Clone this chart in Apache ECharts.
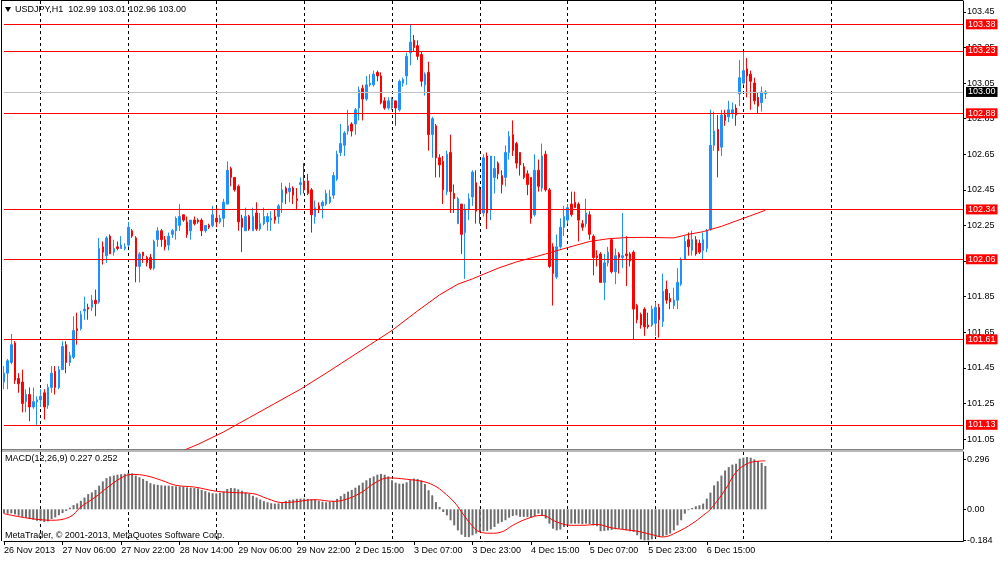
<!DOCTYPE html>
<html>
<head>
<meta charset="utf-8">
<title>USDJPY,H1</title>
<script src="https://cdn.jsdelivr.net/npm/echarts@6.0.0/dist/echarts.min.js"></script>
<style>
  html, body { margin: 0; padding: 0; background: #fff; }
  #main { width: 1000px; height: 561px; }
</style>
</head>
<body>
<div id="main"></div>
<script>
// hourly bars, oldest first
var opens = [
  101.37,101.42,101.48,101.59,101.39,101.37,101.26,101.30,101.23,101.26,101.27,101.31,101.24,101.34,101.43,101.34,
  101.44,101.58,101.48,101.51,101.67,101.67,101.77,101.79,101.79,101.83,101.82,102.13,102.08,102.19,102.10,102.13,
  102.12,102.12,102.14,102.22,102.18,102.02,102.10,102.07,102.07,102.01,102.17,102.22,102.17,102.14,102.20,102.22,
  102.25,102.31,102.27,102.22,102.28,102.28,102.28,102.22,102.25,102.25,102.29,102.27,102.29,102.37,102.57,102.52,
  102.47,102.29,102.22,102.30,102.22,102.32,102.23,102.26,102.27,102.28,102.30,102.30,102.38,102.46,102.44,102.46,
  102.40,102.48,102.50,102.50,102.45,102.30,102.36,102.36,102.37,102.38,102.42,102.51,102.66,102.70,102.78,102.82,
  102.82,102.91,103.02,102.96,103.04,103.04,103.11,103.09,102.95,102.91,102.91,102.95,102.90,103.05,103.09,103.22,
  103.29,103.26,103.21,103.04,103.11,102.76,102.81,102.63,102.61,102.44,102.66,102.43,102.26,102.37,102.21,102.34,
  102.41,102.49,102.45,102.32,102.64,102.34,102.52,102.60,102.53,102.52,102.66,102.76,102.71,102.66,102.58,102.54,
  102.52,102.31,102.56,102.46,102.65,102.45,102.13,101.96,102.13,102.24,102.28,102.37,102.38,102.37,102.26,102.26,
  102.31,102.19,102.08,102.09,101.93,102.04,102.17,101.99,102.09,102.07,102.09,102.09,102.10,101.80,101.75,101.78,
  101.69,101.69,101.70,101.79,101.71,101.89,101.84,101.80,101.83,101.92,102.06,102.17,102.11,102.17,102.15,102.11,
  102.12,102.23,102.70,102.79,102.69,102.87,102.86,102.88,102.91,102.99,103.05,103.13,103.10,103.05,102.97,102.94,
  102.99
];
var highs = [
  101.46,101.50,101.64,101.60,101.42,101.44,101.33,101.34,101.34,101.29,101.33,101.33,101.36,101.46,101.46,101.46,
  101.60,101.60,101.54,101.74,101.76,101.77,101.85,101.81,101.86,101.89,102.18,102.16,102.19,102.20,102.17,102.16,
  102.19,102.15,102.27,102.23,102.19,102.10,102.10,102.08,102.09,102.17,102.24,102.23,102.19,102.21,102.23,102.30,
  102.37,102.31,102.30,102.28,102.30,102.29,102.29,102.25,102.26,102.36,102.35,102.31,102.40,102.61,102.58,102.52,
  102.48,102.31,102.35,102.31,102.35,102.38,102.32,102.35,102.32,102.33,102.34,102.37,102.49,102.47,102.49,102.47,
  102.46,102.52,102.60,102.54,102.46,102.39,102.38,102.39,102.45,102.45,102.55,102.67,102.82,102.78,102.90,102.83,
  102.91,103.03,103.04,103.09,103.10,103.12,103.12,103.11,102.97,102.97,102.97,102.95,103.07,103.08,103.22,103.38,
  103.32,103.29,103.23,103.11,103.17,102.86,102.82,102.65,102.64,102.67,102.76,102.48,102.41,102.37,102.37,102.43,
  102.56,102.56,102.47,102.65,102.66,102.64,102.64,102.61,102.56,102.70,102.78,102.84,102.72,102.66,102.60,102.56,
  102.52,102.65,102.62,102.71,102.67,102.46,102.15,102.20,102.29,102.36,102.37,102.44,102.44,102.38,102.28,102.40,
  102.33,102.20,102.11,102.10,102.09,102.13,102.18,102.12,102.10,102.32,102.19,102.10,102.11,101.81,101.76,101.79,
  101.76,101.80,101.82,101.81,101.98,101.94,101.87,101.90,102.01,102.07,102.19,102.21,102.22,102.19,102.17,102.21,
  102.23,102.90,102.89,102.87,102.90,102.90,102.95,102.94,102.93,103.18,103.23,103.19,103.12,103.08,103.00,103.03,
  103.01
];
var lows = [
  101.33,101.33,101.47,101.36,101.31,101.20,101.20,101.15,101.22,101.13,101.23,101.16,101.22,101.31,101.30,101.33,
  101.44,101.42,101.46,101.50,101.58,101.66,101.72,101.72,101.77,101.74,101.81,102.03,102.04,102.09,102.08,102.11,
  102.12,102.11,102.13,102.18,101.93,101.93,102.04,102.02,102.00,102.00,102.13,102.13,102.11,102.11,102.18,102.17,
  102.22,102.27,102.18,102.17,102.25,102.26,102.19,102.21,102.23,102.24,102.24,102.26,102.24,102.37,102.47,102.44,
  102.22,102.10,102.22,102.22,102.22,102.22,102.22,102.25,102.22,102.22,102.26,102.26,102.32,102.37,102.38,102.37,
  102.34,102.42,102.43,102.42,102.21,102.26,102.32,102.29,102.36,102.37,102.40,102.50,102.64,102.64,102.76,102.75,
  102.76,102.84,102.84,102.95,103.03,103.03,103.06,102.93,102.90,102.90,102.90,102.81,102.89,103.03,103.04,103.15,
  103.23,103.18,103.03,102.98,102.67,102.63,102.52,102.52,102.37,102.42,102.32,102.32,102.26,102.09,101.95,102.28,
  102.36,102.26,102.26,102.30,102.23,102.28,102.43,102.51,102.43,102.47,102.62,102.64,102.57,102.53,102.51,102.42,
  102.26,102.30,102.44,102.44,102.44,102.01,101.80,101.95,102.12,102.19,102.26,102.30,102.35,102.16,102.22,102.24,
  102.17,101.97,102.02,101.93,101.83,102.02,101.98,101.92,101.98,102.01,101.91,102.02,101.61,101.70,101.67,101.63,
  101.67,101.68,101.63,101.62,101.68,101.81,101.78,101.78,101.78,101.91,102.06,102.08,102.08,102.08,102.09,102.06,
  102.10,102.22,102.67,102.52,102.64,102.81,102.83,102.85,102.81,102.92,103.04,102.97,102.90,102.93,102.88,102.89,
  102.96
];
var closes = [
  101.42,101.49,101.58,101.38,101.36,101.25,101.30,101.23,101.26,101.27,101.29,101.23,101.34,101.42,101.34,101.44,
  101.57,101.48,101.52,101.66,101.66,101.75,101.78,101.78,101.83,101.81,102.12,102.10,102.18,102.09,102.12,102.12,
  102.14,102.13,102.24,102.19,102.02,102.09,102.08,102.04,102.01,102.16,102.22,102.17,102.13,102.19,102.22,102.29,
  102.30,102.28,102.20,102.28,102.26,102.27,102.22,102.25,102.24,102.31,102.27,102.29,102.38,102.56,102.52,102.45,
  102.27,102.24,102.30,102.23,102.30,102.23,102.26,102.30,102.30,102.29,102.28,102.36,102.45,102.43,102.46,102.42,
  102.39,102.49,102.45,102.43,102.31,102.35,102.34,102.38,102.43,102.41,102.53,102.65,102.71,102.77,102.81,102.78,
  102.90,103.01,102.96,103.04,103.05,103.10,103.09,102.94,102.91,102.95,102.96,102.91,103.06,103.07,103.20,103.28,
  103.25,103.20,103.06,103.10,102.76,102.85,102.63,102.59,102.45,102.65,102.44,102.40,102.40,102.20,102.34,102.40,
  102.55,102.33,102.32,102.63,102.32,102.64,102.57,102.54,102.48,102.66,102.75,102.67,102.60,102.59,102.52,102.48,
  102.29,102.56,102.47,102.64,102.45,102.02,101.98,102.13,102.24,102.30,102.35,102.31,102.35,102.28,102.24,102.32,
  102.20,102.07,102.07,101.93,102.04,102.10,101.99,102.08,102.07,102.08,102.08,102.05,101.78,101.72,101.69,101.68,
  101.68,101.78,101.79,101.72,101.88,101.83,101.82,101.83,101.93,102.06,102.16,102.13,102.17,102.09,102.10,102.17,
  102.22,102.70,102.78,102.67,102.87,102.84,102.90,102.90,102.87,103.08,103.12,103.09,103.06,102.95,102.92,103.00,
  103.00
];

// moving average line, read at a few bars
var maBars   = [46, 53, 60, 67, 74, 81, 88, 94, 100, 106, 113, 119, 124, 128, 135, 140, 148, 153, 160, 165, 170, 175, 183, 187, 191, 196, 200, 204, 208];
var maValues = [100.96, 101.02, 101.09, 101.17, 101.25, 101.33, 101.42, 101.50, 101.58, 101.66, 101.77, 101.86, 101.92, 101.95, 102.01, 102.045,
                102.09, 102.12, 102.16, 102.175, 102.182, 102.183, 102.18, 102.20, 102.215, 102.245, 102.275, 102.305, 102.335];

// MACD(12,26,9) histogram, one value per bar
var macdHist = [
  -0.025,-0.026,-0.024,-0.030,-0.038,-0.045,-0.050,-0.058,-0.062,-0.068,-0.070,-0.075,-0.072,-0.058,-0.048,-0.035,
  -0.022,-0.010,0.010,0.025,0.035,0.050,0.070,0.090,0.100,0.115,0.140,0.165,0.185,0.195,0.200,0.205,
  0.208,0.210,0.215,0.213,0.200,0.190,0.180,0.168,0.155,0.148,0.145,0.142,0.140,0.140,0.138,0.136,
  0.135,0.133,0.130,0.128,0.126,0.124,0.115,0.108,0.100,0.095,0.094,0.098,0.105,0.120,0.126,0.125,
  0.118,0.110,0.100,0.092,0.080,0.070,0.058,0.048,0.042,0.036,0.034,0.035,0.040,0.050,0.055,0.058,
  0.062,0.063,0.064,0.062,0.060,0.058,0.050,0.045,0.042,0.044,0.050,0.062,0.078,0.092,0.105,0.115,
  0.128,0.142,0.158,0.172,0.185,0.195,0.205,0.210,0.205,0.195,0.172,0.158,0.152,0.152,0.160,0.175,
  0.182,0.180,0.172,0.150,0.113,0.083,0.043,0.014,-0.016,-0.036,-0.065,-0.095,-0.125,-0.150,-0.164,-0.165,
  -0.154,-0.144,-0.134,-0.130,-0.128,-0.119,-0.105,-0.085,-0.075,-0.065,-0.050,-0.040,-0.036,-0.045,-0.045,-0.045,
  -0.048,-0.040,-0.026,-0.040,-0.055,-0.085,-0.115,-0.125,-0.120,-0.105,-0.090,-0.085,-0.085,-0.085,-0.088,-0.085,
  -0.088,-0.095,-0.100,-0.130,-0.128,-0.125,-0.122,-0.118,-0.115,-0.118,-0.125,-0.130,-0.134,-0.154,-0.178,-0.184,
  -0.184,-0.178,-0.165,-0.164,-0.160,-0.154,-0.144,-0.125,-0.095,-0.065,-0.026,-0.005,0.008,0.018,0.024,0.034,
  0.063,0.099,0.142,0.166,0.200,0.230,0.250,0.265,0.270,0.300,0.306,0.310,0.306,0.296,0.285,0.275,
  0.257
];
// signal line, read at a few bars
var signalBars   = [0, 13, 18, 21, 25, 28, 32, 35, 39, 43, 47, 52, 58, 63, 68, 72, 76, 79, 85, 90, 94, 98, 101, 105, 110, 115, 118, 120,
                    123, 125, 128, 130, 133, 136, 139, 143, 147, 148, 151, 155, 158, 162, 166, 169, 173, 177, 180, 184, 188, 191, 193, 197,
                    200, 203, 206, 208];
var signalValues = [-0.026, -0.065, -0.045, 0.014, 0.073, 0.125, 0.186, 0.207, 0.198, 0.172, 0.142, 0.132, 0.107, 0.099, 0.093, 0.063,
                    0.040, 0.043, 0.057, 0.047, 0.063, 0.105, 0.152, 0.186, 0.178, 0.162, 0.135, 0.103, 0.043, -0.016, -0.100, -0.134,
                    -0.142, -0.134, -0.095, -0.055, -0.036, -0.040, -0.075, -0.095, -0.095, -0.090, -0.110, -0.119, -0.130, -0.150,
                    -0.164, -0.134, -0.085, -0.036, 0.000, 0.115, 0.220, 0.270, 0.285, 0.287];

var levels = [103.38, 103.23, 102.88, 102.34, 102.06, 101.61, 101.13];
var lastPrice = 103.00;
var priceTicks = [101.05, 101.25, 101.45, 101.65, 101.85, 102.05, 102.25, 102.45, 102.65, 102.85, 103.05, 103.25, 103.45];
var macdTicks = [0.296, 0, -0.184];
var timeLabels = ['26 Nov 2013', '27 Nov 06:00', '27 Nov 22:00', '28 Nov 14:00', '29 Nov 06:00', '29 Nov 22:00', '2 Dec 15:00',
                  '3 Dec 07:00', '3 Dec 23:00', '4 Dec 15:00', '5 Dec 07:00', '5 Dec 23:00', '6 Dec 15:00'];

var slotCount = 263;   // bar slots across the whole chart width
var labelStep = 16;    // bars between time labels
var gridFirst = 10, gridStep = 24, gridLast = 226;

var FONT = 'Liberation Sans, Arial, sans-serif';

var slots = [];
for (var i = 0; i < slotCount; i++) slots.push(i);

var candles = opens.map(function (o, i) { return [o, closes[i], lows[i], highs[i]]; });

function placeAt(bars, values) {
  var out = opens.map(function () { return null; });
  bars.forEach(function (b, k) { out[b] = values[k]; });
  return out;
}

function isLabel(i) { return i % labelStep === 0 && i / labelStep < timeLabels.length; }
function isGrid(i) { return i >= gridFirst && i <= gridLast && (i - gridFirst) % gridStep === 0; }

var dashed = { show: true, interval: function (i) { return isGrid(i); },
               lineStyle: { color: '#000', width: 1, type: [3, 3] } };

function levelMarks(values, lineColor, boxColor) {
  return {
    silent: true, symbol: ['none', 'none'], animation: false,
    lineStyle: { color: lineColor, width: 1, type: 'solid', opacity: 1 },
    emphasis: { disabled: true },
    label: { show: true, position: 'end', distance: 3, color: '#fff', fontSize: 9, fontFamily: FONT,
             backgroundColor: boxColor, padding: [1, 2, 0, 2],
             formatter: function (p) { return p.value.toFixed(2); } },
    data: values.map(function (v) { return { yAxis: v }; })
  };
}

var myChart = echarts.init(document.getElementById('main'));

var option = {
  animation: false,
  textStyle: { fontFamily: FONT },
  grid: [
    { left: 4, right: 37, top: 1, height: 448 },
    { left: 4, right: 37, top: 452, height: 89 }
  ],
  xAxis: [
    {
      type: 'category', gridIndex: 0, data: slots, boundaryGap: false,
      axisLine: { show: false }, axisTick: { show: false }, axisLabel: { show: false },
      splitLine: dashed
    },
    {
      type: 'category', gridIndex: 1, data: slots, boundaryGap: false,
      axisLine: { show: true, onZero: false, lineStyle: { color: '#000', width: 1 } },
      axisTick: { show: true, length: 4, interval: function (i) { return isLabel(i); }, lineStyle: { color: '#000' } },
      axisLabel: {
        interval: function (i) { return isLabel(i); },
        formatter: function (v, i) { return timeLabels[i / labelStep]; },
        align: 'left', margin: 5, fontSize: 9, color: '#000', fontFamily: FONT
      },
      splitLine: dashed
    }
  ],
  yAxis: [
    {
      type: 'value', gridIndex: 0, position: 'right', min: 100.994, max: 103.511, scale: true,
      axisLine: { show: true, lineStyle: { color: '#000', width: 1 } },
      axisTick: { show: true, length: 3, customValues: priceTicks, lineStyle: { color: '#000' } },
      axisLabel: { customValues: priceTicks, margin: 4, fontSize: 9, color: '#000', fontFamily: FONT,
                   formatter: function (v) { return v.toFixed(2); } },
      splitLine: { show: false }
    },
    {
      type: 'value', gridIndex: 1, position: 'right', min: -0.1879, max: 0.3396,
      axisLine: { show: true, lineStyle: { color: '#000', width: 1 } },
      axisTick: { show: true, length: 3, customValues: macdTicks, lineStyle: { color: '#000' } },
      axisLabel: { customValues: macdTicks, margin: 4, fontSize: 9, color: '#000', fontFamily: FONT,
                   formatter: function (v) { return v === 0 ? '0.00' : String(v); } },
      splitLine: { show: false }
    }
  ],
  series: [
    {
      name: 'USDJPY,H1', type: 'candlestick', xAxisIndex: 0, yAxisIndex: 0,
      data: candles, barWidth: 2,
      itemStyle: { color: '#1e90ff', color0: '#ff0000', borderColor: '#1e90ff', borderColor0: '#ff0000', borderWidth: 1 },
      markLine: levelMarks([lastPrice], '#c0c0c0', '#000')
    },
    {
      name: 'Levels', type: 'line', xAxisIndex: 0, yAxisIndex: 0, data: [],
      color: '#ff0000',
      markLine: levelMarks(levels, '#ff0000', '#ff0000')
    },
    {
      name: 'MA', type: 'line', xAxisIndex: 0, yAxisIndex: 0,
      data: placeAt(maBars, maValues), connectNulls: true, showSymbol: false, symbol: 'none',
      lineStyle: { color: '#ff0000', width: 1 }
    },
    {
      name: 'MACD', type: 'bar', xAxisIndex: 1, yAxisIndex: 1,
      data: macdHist, barWidth: 2,
      itemStyle: { color: '#6e6e6e' }
    },
    {
      name: 'Signal', type: 'line', xAxisIndex: 1, yAxisIndex: 1,
      data: placeAt(signalBars, signalValues), connectNulls: true, smooth: 0.4, showSymbol: false, symbol: 'none',
      lineStyle: { color: '#ff0000', width: 1 }
    }
  ],
  graphic: [
    { type: 'line', shape: { x1: 1.5, y1: 0, x2: 1.5, y2: 541 }, style: { stroke: '#000', lineWidth: 1 } },
    { type: 'line', shape: { x1: 1, y1: 0.5, x2: 963, y2: 0.5 }, style: { stroke: '#000', lineWidth: 1 } },
    { type: 'rect', shape: { x: 2, y: 449, width: 961, height: 3 }, style: { fill: '#b8b8b8' } },
    { type: 'line', shape: { x1: 2, y1: 449.5, x2: 963, y2: 449.5 }, style: { stroke: '#808080', lineWidth: 1 } },
    { type: 'polygon', shape: { points: [[5, 7], [11, 7], [8, 12]] }, style: { fill: '#000' } },
    { type: 'text', style: { text: 'USDJPY,H1  102.99 103.01 102.96 103.00', x: 15, y: 10, fill: '#000',
                             font: '9px ' + FONT, verticalAlign: 'middle' } },
    { type: 'text', style: { text: 'MACD(12,26,9) 0.227 0.252', x: 5, y: 459, fill: '#000',
                             font: '9px ' + FONT, verticalAlign: 'middle' } },
    { type: 'text', style: { text: 'MetaTrader, \u00a9 2001-2013, MetaQuotes Software Corp.', x: 5, y: 536, fill: '#000',
                             font: '9px ' + FONT, verticalAlign: 'middle' } }
  ]
};

myChart.setOption(option);
</script>
</body>
</html>
